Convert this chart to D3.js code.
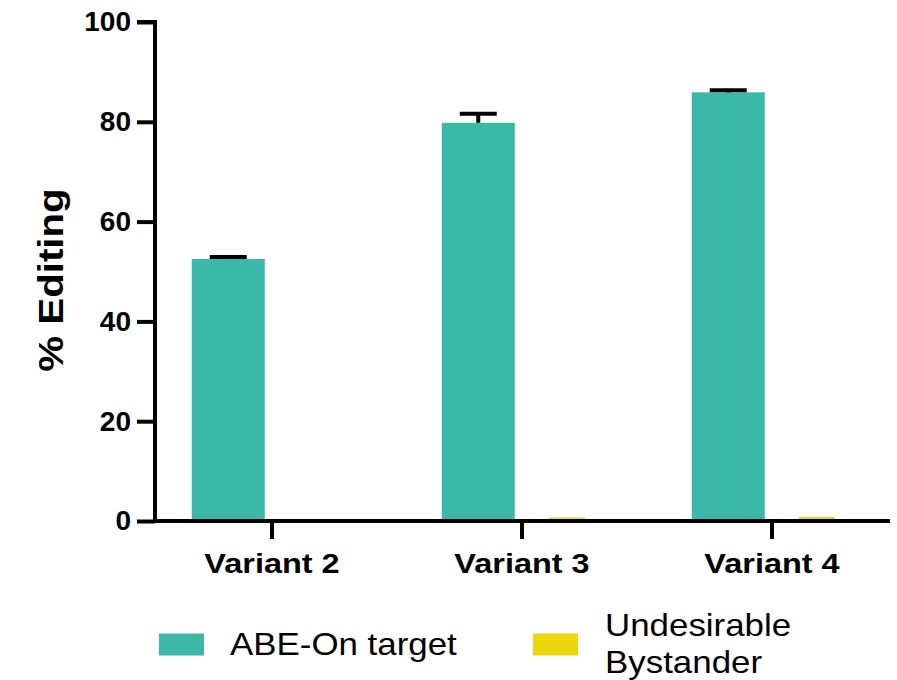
<!DOCTYPE html>
<html>
<head>
<meta charset="utf-8">
<script src="https://cdn.jsdelivr.net/npm/d3@7"></script>
<style>
  body { margin: 0; background: #fff; }
  svg { display: block; font-family: "Liberation Sans", Arial, sans-serif; }
</style>
</head>
<body>
<svg id="chart" width="897" height="680"></svg>
<script>
// chart values
const categories = ['Variant 2', 'Variant 3', 'Variant 4'];
const seriesNames = ['ABE-On target', 'Undesirable Bystander'];
const onTarget = [52.5, 79.8, 85.9];
const onTargetErr = [0.4, 1.8, 0.4];
const bystander = [0, 0.7, 0.8];
const yTicks = [0, 20, 40, 60, 80, 100];

const colors = ['#3bb8a8', '#ebd70c'];
const barFrac = [0.825, 0.41]; // yellow bars are drawn narrower in the original

const svg = d3.select('#chart');

const y = d3.scaleLinear().domain([0, 100]).range([521, 22]);
const x = d3.scaleBand().domain(categories).range([147, 897]);
const xSub = d3.scaleBand().domain(seriesNames).range([37, 214]);

const rows = categories.map((c, i) => ({
  cat: c,
  vals: [
    { s: seriesNames[0], v: onTarget[i], err: onTargetErr[i], k: 0 },
    { s: seriesNames[1], v: bystander[i], err: 0, k: 1 }
  ]
}));

// bars
const groups = svg.append('g').selectAll('g')
  .data(rows)
  .join('g')
  .attr('transform', d => `translate(${x(d.cat)},0)`);

const barX = d => xSub(d.s) + xSub.bandwidth() / 2 - xSub.bandwidth() * barFrac[d.k] / 2;
const barW = d => xSub.bandwidth() * barFrac[d.k];

groups.selectAll('rect')
  .data(d => d.vals.filter(v => v.v > 0))
  .join('rect')
  .attr('x', barX)
  .attr('width', barW)
  .attr('y', d => y(d.v))
  .attr('height', d => y(0) - y(d.v))
  .attr('fill', d => colors[d.k]);

// error bars (upper only)
const eb = groups.selectAll('g.err')
  .data(d => d.vals.filter(v => v.err > 0))
  .join('g')
  .attr('class', 'err');
eb.append('line')
  .attr('x1', d => xSub(d.s) + xSub.bandwidth() / 2)
  .attr('x2', d => xSub(d.s) + xSub.bandwidth() / 2)
  .attr('y1', d => y(d.v))
  .attr('y2', d => y(d.v + d.err))
  .attr('stroke', '#000').attr('stroke-width', 4);
eb.append('line')
  .attr('x1', d => xSub(d.s) + xSub.bandwidth() / 2 - 18.5)
  .attr('x2', d => xSub(d.s) + xSub.bandwidth() / 2 + 18.5)
  .attr('y1', d => y(d.v + d.err))
  .attr('y2', d => y(d.v + d.err))
  .attr('stroke', '#000').attr('stroke-width', 4);

// y axis
const yAxis = svg.append('g')
  .attr('transform', 'translate(155,0)')
  .call(d3.axisLeft(y).tickValues(yTicks).tickSize(18).tickPadding(6));
yAxis.select('.domain').attr('stroke-width', 4).attr('d', `M-18,${y(100)}H0V${y(0)}`);
yAxis.selectAll('.tick line').attr('stroke-width', 4);
yAxis.selectAll('.tick text')
  .attr('font-size', 28).attr('font-weight', 'bold').attr('fill', '#000')
  .attr('font-family', '"Liberation Sans", Arial, sans-serif');

// x axis
const xAxis = svg.append('g')
  .attr('transform', `translate(0,${y(0)})`)
  .call(d3.axisBottom(x).tickSize(18).tickPadding(14));
xAxis.select('.domain').attr('stroke-width', 4).attr('d', 'M153,0H890');
xAxis.selectAll('.tick line').attr('stroke-width', 4);
xAxis.selectAll('.tick text')
  .attr('font-size', 28).attr('font-weight', 'bold').attr('fill', '#000')
  .attr('transform', 'scale(1.16,1)')
  .attr('font-family', '"Liberation Sans", Arial, sans-serif');

// y title
svg.append('text')
  .attr('transform', 'translate(63,280) rotate(-90) scale(1.15,1)')
  .attr('text-anchor', 'middle')
  .attr('font-size', 35).attr('font-weight', 'bold')
  .text('% Editing');

// legend
const legend = [
  { name: seriesNames[0], lines: ['ABE-On target'], sx: 159, tx: 230, base: 655 },
  { name: seriesNames[1], lines: ['Undesirable', 'Bystander'], sx: 533, tx: 605, base: 636 }
];
const lg = svg.append('g').selectAll('g').data(legend).join('g');
lg.append('rect')
  .attr('x', d => d.sx).attr('y', 633.5)
  .attr('width', 45).attr('height', 22)
  .attr('fill', (d, i) => colors[i]);
lg.append('text')
  .attr('transform', d => `translate(${d.tx},${d.base}) scale(1.09,1)`)
  .attr('font-size', 32)
  .selectAll('tspan')
  .data(d => d.lines.map((l, j) => ({ l, j })))
  .join('tspan')
  .attr('x', 0)
  .attr('dy', d => d.j === 0 ? 0 : 37)
  .text(d => d.l);
</script>
</body>
</html>
